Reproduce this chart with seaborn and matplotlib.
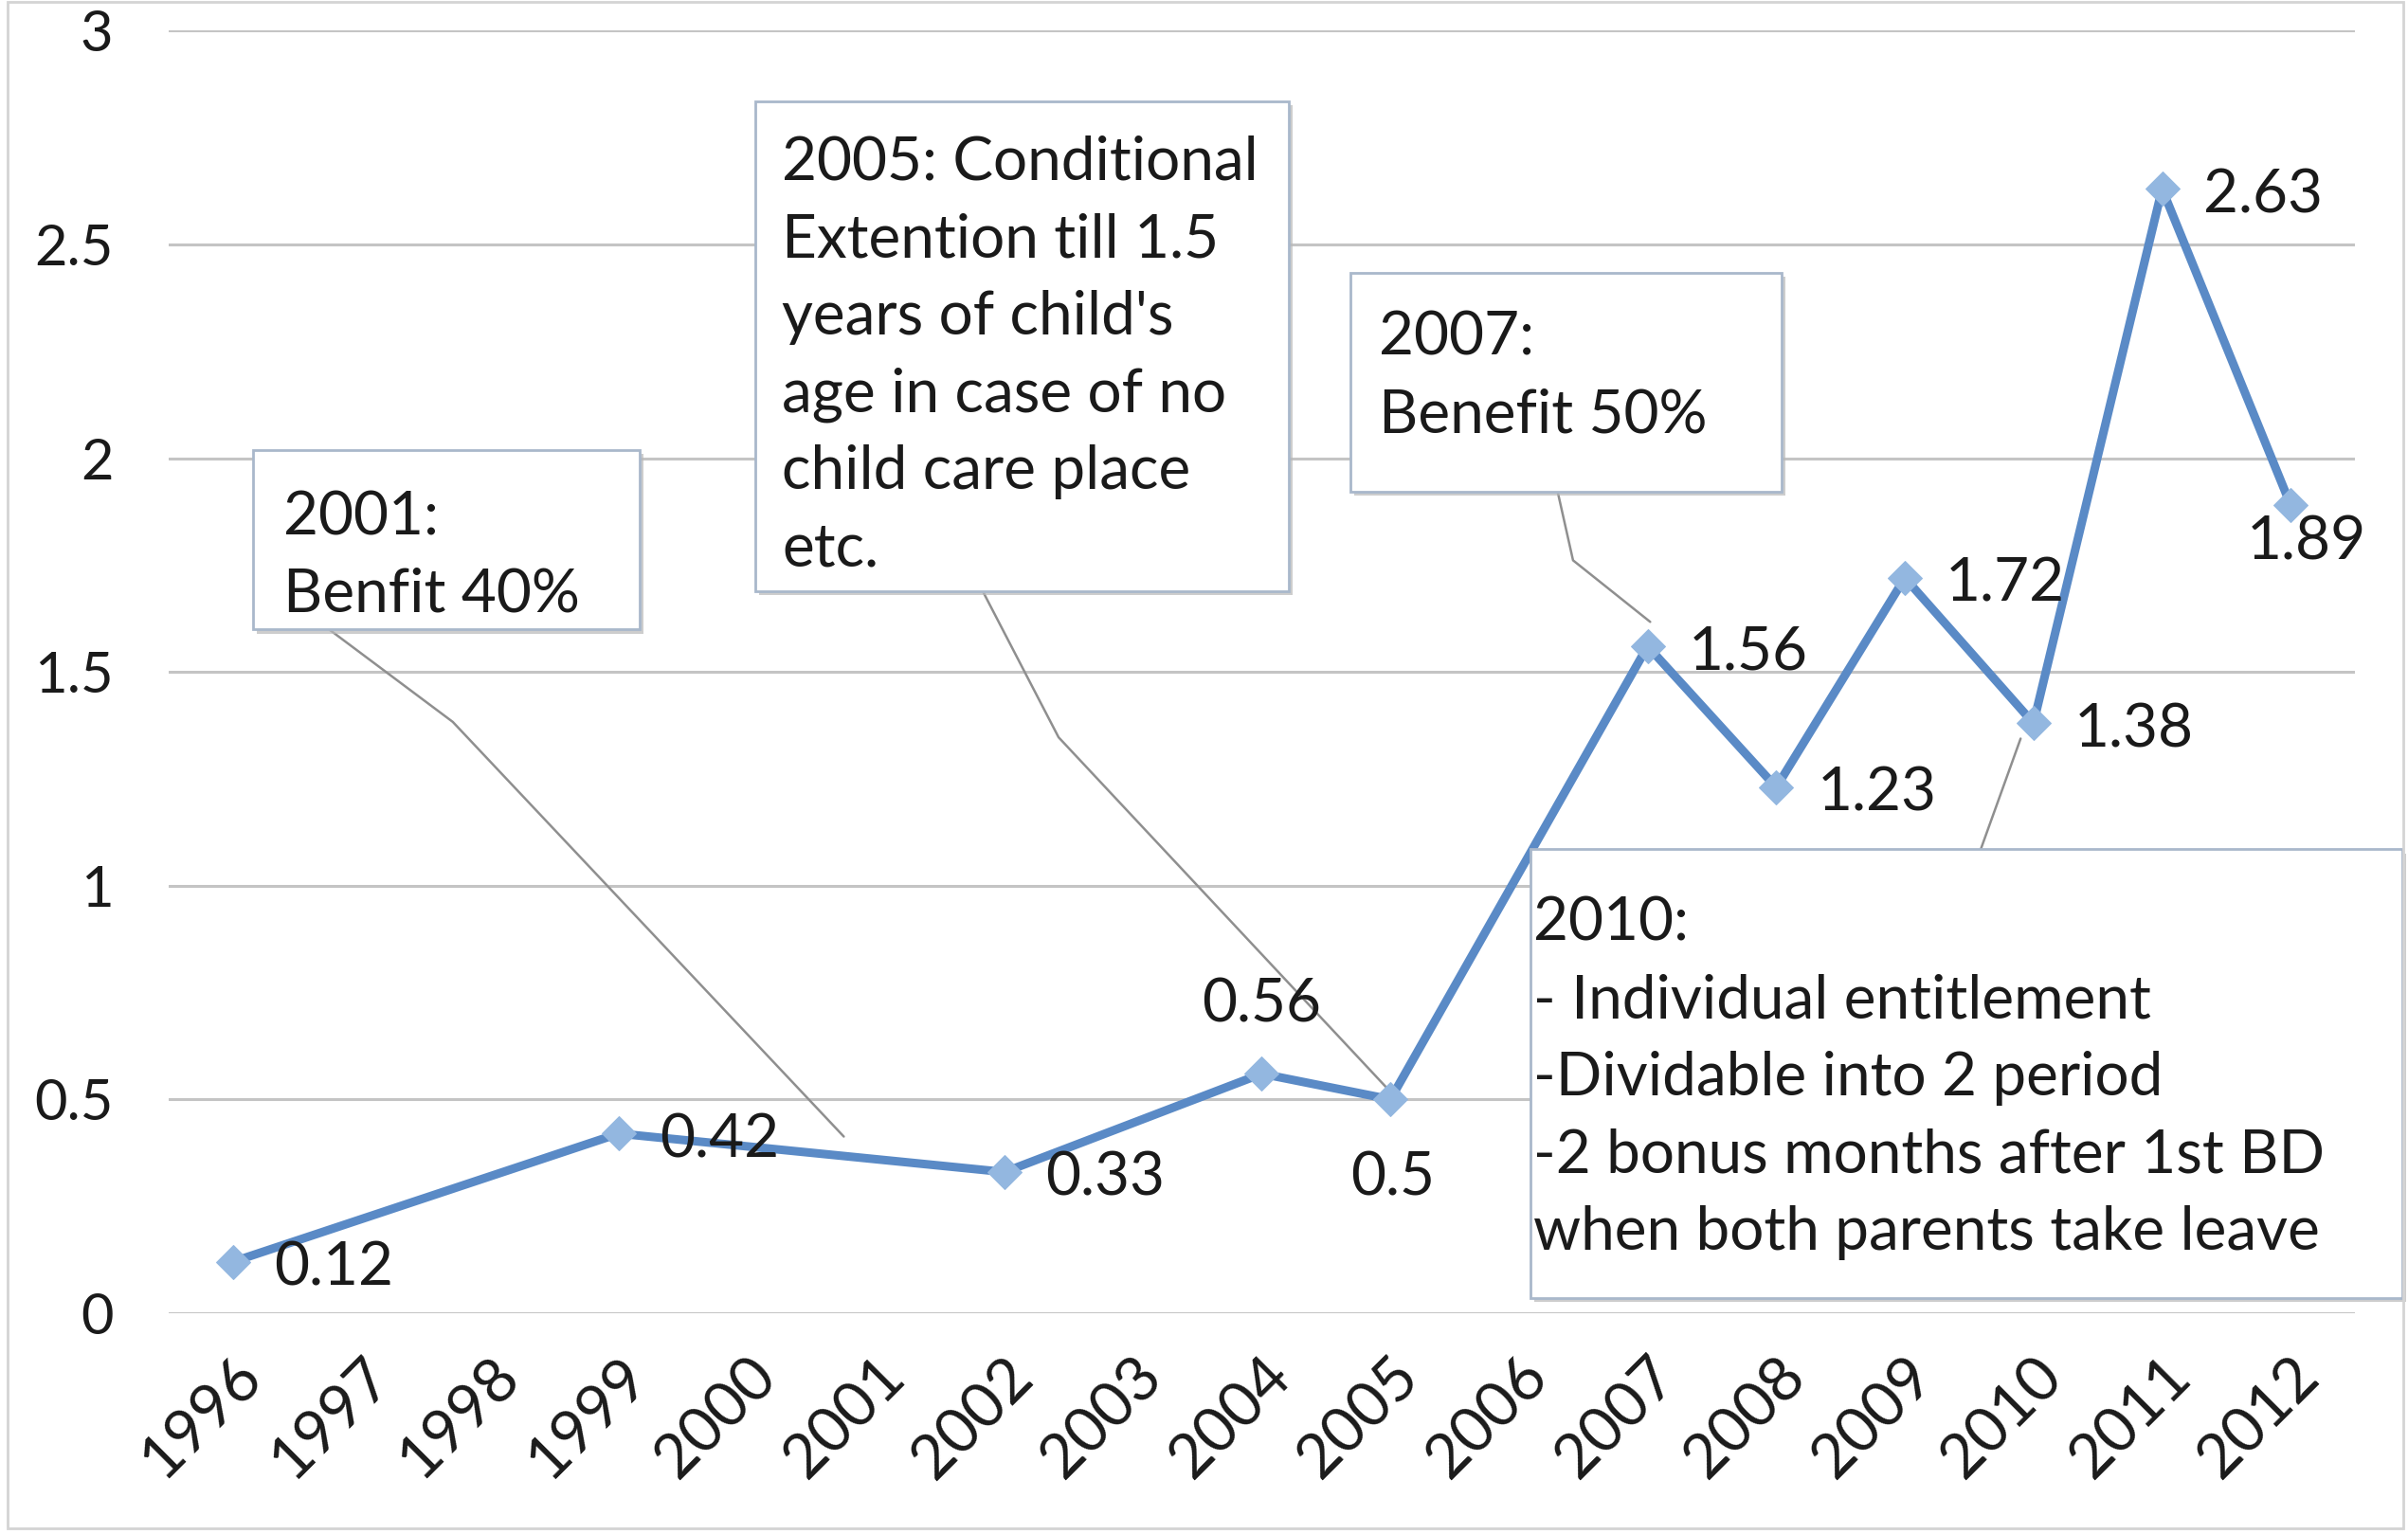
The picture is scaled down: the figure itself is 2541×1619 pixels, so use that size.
import matplotlib
matplotlib.use("Agg")
import pandas as pd
import seaborn as sns
import matplotlib.pyplot as plt
from matplotlib.patches import Rectangle
from matplotlib.transforms import offset_copy

# data
years = [1996, 1999, 2002, 2004, 2005, 2007, 2008, 2009, 2010, 2011, 2012]
values = [0.12, 0.42, 0.33, 0.56, 0.5, 1.56, 1.23, 1.72, 1.38, 2.63, 1.89]
all_years = list(range(1996, 2013))
y_ticks = [0, 0.5, 1, 1.5, 2, 2.5, 3]
y_tick_labels = ["0", "0.5", "1", "1.5", "2", "2.5", "3"]

note_texts = [
    "2001:\nBenfit 40%",
    "2005: Conditional\nExtention till 1.5\nyears of child's\nage in case of no\nchild care place\netc.",
    "2007:\nBenefit 50%",
    "2010:\n- Individual entitlement\n-Dividable into 2 period\n-2 bonus months after 1st BD\nwhen both parents take leave",
]

df = pd.DataFrame({"year": years, "value": values})

sns.set_theme(style="white")
plt.rcParams["font.family"] = ["Lato", "DejaVu Sans"]
text_color = "#1a1a1a"

fig = plt.figure(figsize=(25.41, 16.19), dpi=100)
ax = fig.add_axes([0.070, 0.144, 0.908, 0.836])

# chart area frame
fig.patches.append(Rectangle((0.003, 0.004), 0.995, 0.995, transform=fig.transFigure,
                             fill=False, edgecolor="#d4d4d4", lw=2))

sns.lineplot(data=df, x="year", y="value", ax=ax, color="#5a8ac6", lw=6.5,
             marker="D", markersize=18, markerfacecolor="#93b7e0",
             markeredgecolor="#93b7e0", zorder=5)

ax.set_xlim(1995.5, 2012.5)
ax.set_ylim(0, 3)
ax.set_xticks(all_years)
ax.set_xticklabels([str(y) for y in all_years], rotation=45, ha="right",
                   rotation_mode="anchor", fontsize=47, color=text_color)
ax.tick_params(axis="x", length=0, pad=26)
ax.set_yticks(y_ticks)
ax.set_yticklabels(y_tick_labels, fontsize=43, color=text_color)
ax.tick_params(axis="y", length=0, pad=42)
ax.set_xlabel("")
ax.set_ylabel("")
for s in ax.spines.values():
    s.set_visible(False)
ax.yaxis.grid(True, color="#c4c4c4", lw=2.2)
ax.set_axisbelow(True)

# data labels
offsets = [(31, -5), (31, -5), (31, -5), (0, 52), (2, -60), (31, -5),
           (31, -5), (31, -5), (31, -5), (31, -5), (12, -28)]
for x, v, (dx, dy) in zip(years, values, offsets):
    ha = "left" if dx > 20 else "center"
    ax.annotate(f"{v:g}", (x, v), xytext=(dx, dy), textcoords="offset points",
                ha=ha, va="center", fontsize=46, color=text_color, zorder=6)

# callout boxes: (x0, y0, x1, y1) in data units, text anchor, leader path
boxes = [
    (1996.155, 1.599, 1999.16, 2.019),
    (2000.06, 1.689, 2004.21, 2.835),
    (2004.69, 1.922, 2008.04, 2.433),
    (2006.09, 0.036, 2012.87, 1.085),
]
anchors = [(1996.39, 1.925), (2000.27, 2.755), (2004.91, 2.345), (2006.11, 0.975)]
leaders = [
    ([1996.75, 1997.71, 2000.75], [1.599, 1.383, 0.413]),
    ([2001.83, 2002.42, 2004.99], [1.689, 1.347, 0.521]),
    ([2006.30, 2006.42, 2007.02], [1.922, 1.761, 1.617]),
    ([2009.59, 2009.90], [1.085, 1.344]),
]

shadow_tr = offset_copy(ax.transData, fig=fig, x=3, y=-3, units="points")
for (x0, y0, x1, y1), (tx, ty), (lx, ly), txt in zip(boxes, anchors, leaders, note_texts):
    ax.plot(lx, ly, color="#8f8f8f", lw=1.8, zorder=4, clip_on=False)
    ax.add_patch(Rectangle((x0, y0), x1 - x0, y1 - y0, transform=shadow_tr,
                           facecolor="#b8b8b8", edgecolor="none", alpha=0.7,
                           zorder=6.5, clip_on=False))
    ax.add_patch(Rectangle((x0, y0), x1 - x0, y1 - y0, facecolor="white",
                           edgecolor="#a9b8cb", lw=2, zorder=7, clip_on=False))
    ax.text(tx, ty, txt, ha="left", va="top", fontsize=46, color=text_color,
            linespacing=1.5, zorder=8)

fig.savefig("out.png", dpi=100)
